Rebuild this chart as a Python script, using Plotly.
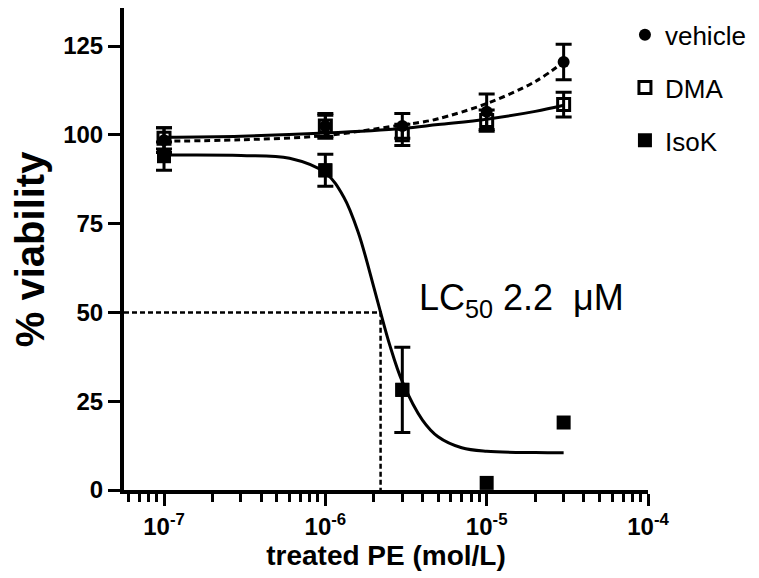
import plotly.graph_objects as go

# ---- data ----
conc = [1e-7, 1e-6, 3e-6, 1e-5, 3e-5]

vehicle = [98.5, 102.5, 102.5, 106.5, 120.5]
vehicle_err = [3.5, 3.5, 3.5, 5.0, 5.0]

dma = [99.0, 102.5, 100.0, 104.0, 108.5]
dma_err = [3.0, 3.0, 3.0, 3.0, 3.5]

isok = [94.0, 90.0, 28.2, 2.0, 19.0]
isok_err = [4.0, 4.5, 12.0, None, None]

# fitted curves
fit_x = [1e-7, 3e-7, 6e-7, 1e-6, 1.3e-6, 1.6e-6, 2e-6, 2.2e-6, 2.5e-6, 3e-6,
         4e-6, 5e-6, 7e-6, 1e-5, 2e-5, 3e-5]
isok_fit = [94.3, 94.2, 93.4, 89.3, 82.5, 72.5, 57.0, 50.0, 41.0, 30.5,
            19.7, 15.0, 11.9, 10.9, 10.55, 10.5]

veh_fit_x = [1e-7, 3e-7, 1e-6, 3e-6, 4e-6, 5e-6, 1e-5, 2e-5, 3e-5]
veh_fit = [98.2, 98.6, 99.8, 102.8, 103.6, 104.5, 108.8, 115.0, 120.5]

dma_fit_x = [1e-7, 3e-7, 1e-6, 3e-6, 5e-6, 1e-5, 2e-5, 3e-5]
dma_fit = [99.3, 99.6, 100.5, 101.8, 102.9, 104.4, 106.6, 108.3]

lc50 = 2.2e-6
half = 50

x_tickvals = [1e-7, 1e-6, 1e-5, 1e-4]
x_ticktext = ["10<sup>-7</sup>", "10<sup>-6</sup>", "10<sup>-5</sup>", "10<sup>-4</sup>"]
y_tickvals = [0, 25, 50, 75, 100, 125]

x_range_log = [-7.248, -4.0]
y_range = [0, 135.7]

FONT = "Liberation Sans, Arial, sans-serif"
BLACK = "black"

minor_vals = [m * 10.0 ** e for e in (-8, -7, -6, -5) for m in range(2, 10)]

fig = go.Figure()

err_style = dict(type="data", visible=True, color=BLACK, thickness=3, width=8)

fig.add_trace(go.Scatter(
    x=conc, y=vehicle, mode="markers", name="vehicle", legendgroup="a",
    marker=dict(symbol="circle", size=12, color=BLACK),
    error_y=dict(array=vehicle_err, **err_style)))
fig.add_trace(go.Scatter(
    x=conc, y=dma, mode="markers", name="DMA", legendgroup="b",
    marker=dict(symbol="square-open", size=12, color=BLACK, line=dict(width=3, color=BLACK)),
    error_y=dict(array=dma_err, **err_style)))
fig.add_trace(go.Scatter(
    x=conc, y=isok, mode="markers", name="IsoK", legendgroup="c",
    marker=dict(symbol="square", size=14, color=BLACK)))

# error bars of IsoK only where an error is visible
eb_idx = [i for i, e in enumerate(isok_err) if e is not None]
fig.add_trace(go.Scatter(
    x=[conc[i] for i in eb_idx], y=[isok[i] for i in eb_idx], mode="markers",
    showlegend=False, hoverinfo="skip",
    marker=dict(symbol="square", size=14, color=BLACK),
    error_y=dict(array=[isok_err[i] for i in eb_idx], **err_style)))

fig.add_trace(go.Scatter(x=veh_fit_x, y=veh_fit, mode="lines", showlegend=False,
                         line=dict(color=BLACK, width=3, dash="6px,4px", shape="spline")))
fig.add_trace(go.Scatter(x=dma_fit_x, y=dma_fit, mode="lines", showlegend=False,
                         line=dict(color=BLACK, width=3, shape="spline")))
fig.add_trace(go.Scatter(x=fit_x, y=isok_fit, mode="lines", showlegend=False,
                         line=dict(color=BLACK, width=3, shape="spline")))

fig.add_trace(go.Scatter(x=[10 ** x_range_log[0], lc50, lc50], y=[half, half, 0],
                         mode="lines", showlegend=False,
                         line=dict(color=BLACK, width=2.5, dash="5px,3px")))

fig.add_annotation(x=-5.43, y=53.5, xref="x", yref="y", xanchor="left", yanchor="middle",
                   text="LC<sub>50</sub> 2.2 \u00a0\u03bcM", showarrow=False,
                   font=dict(family=FONT, size=36, color=BLACK))

# y-axis title as a rotated annotation so it can sit close to the left edge
fig.add_annotation(x=-0.179, y=0.5, xref="paper", yref="paper", xanchor="center",
                   yanchor="middle", textangle=-90, text="% viability", showarrow=False,
                   font=dict(family=FONT, size=40, color=BLACK, weight="bold"))

fig.update_xaxes(type="log", range=x_range_log, showline=True, linewidth=4, linecolor=BLACK,
                 ticks="outside", ticklen=12, tickwidth=3, tickcolor=BLACK,
                 tickvals=x_tickvals, ticktext=x_ticktext, showgrid=False, zeroline=False,
                 tickfont=dict(family=FONT, size=24, color=BLACK, weight="bold"),
                 minor=dict(ticks="outside", ticklen=8, tickwidth=3, tickcolor=BLACK,
                            tickvals=minor_vals, showgrid=False),
                 title=dict(text="treated PE (mol/L)", standoff=2,
                            font=dict(family=FONT, size=28, color=BLACK, weight="bold")))
fig.update_yaxes(range=y_range, showline=True, linewidth=4, linecolor=BLACK,
                 ticks="outside", ticklen=12, tickwidth=3, tickcolor=BLACK,
                 tickvals=y_tickvals, showgrid=False, zeroline=False,
                 tickfont=dict(family=FONT, size=24, color=BLACK, weight="bold"))

fig.update_layout(
    width=759, height=578,
    margin=dict(l=116, r=119, t=0, b=96, autoexpand=False),
    paper_bgcolor="white", plot_bgcolor="white",
    showlegend=True,
    legend=dict(x=0.956, y=0.993, xanchor="left", yanchor="top",
                font=dict(family=FONT, size=26, color=BLACK),
                bgcolor="rgba(0,0,0,0)", tracegroupgap=16, itemsizing="trace"),
)

fig.write_html("out.html")
